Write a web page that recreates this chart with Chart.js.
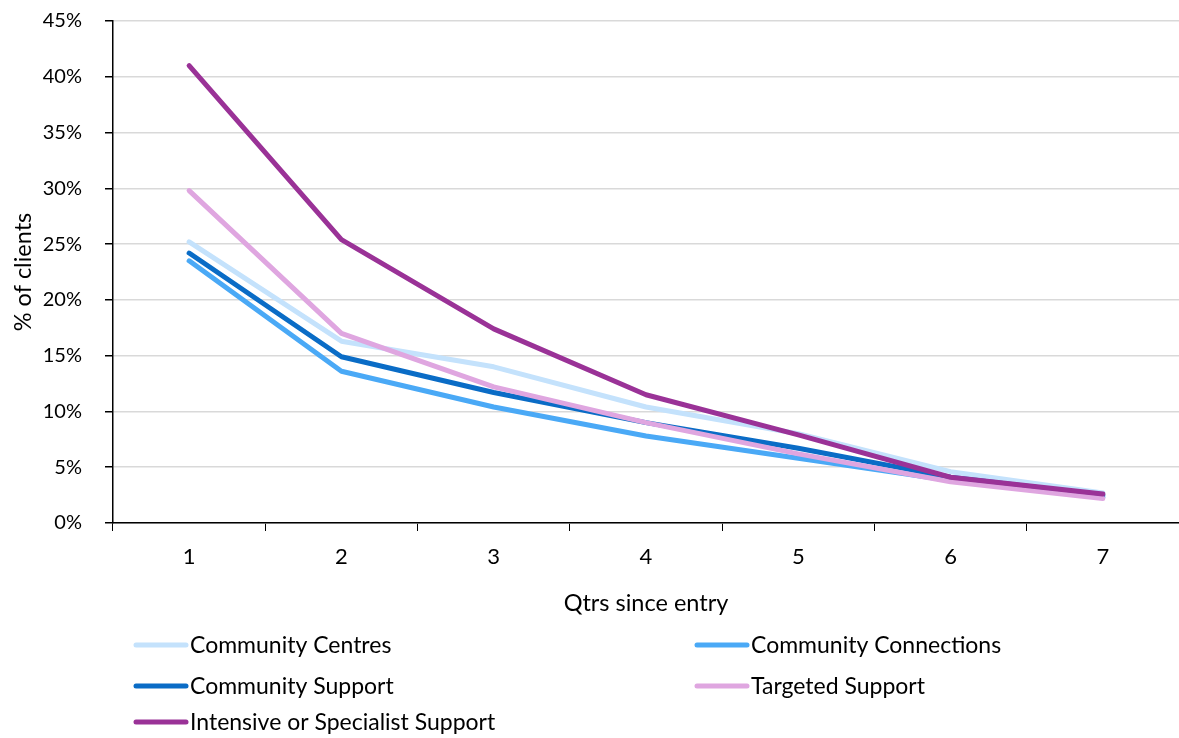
<!DOCTYPE html>
<html>
<head>
<meta charset="utf-8">
<script src="https://cdn.jsdelivr.net/npm/chart.js@4/dist/chart.umd.min.js"></script>
<style>
  html, body { margin: 0; padding: 0; background: #fff; }
  #wrap { width: 1179px; height: 738px; position: relative; }
</style>
</head>
<body>
<div id="wrap"><canvas id="chart" width="1179" height="738"></canvas></div>
<script>
// Share of clients by quarters since entry, per service type (%)
const quarters = ['1', '2', '3', '4', '5', '6', '7'];
const seriesNames = [
  'Community Centres',
  'Community Connections',
  'Community Support',
  'Targeted Support',
  'Intensive or Specialist Support'
];
const communityCentres     = [25.2, 16.3, 14.0, 10.4, 8.0, 4.6, 2.7];
const communityConnections = [23.5, 13.6, 10.4, 7.8, 5.8, 3.8, 2.3];
const communitySupport     = [24.2, 14.9, 11.7, 9.0, 6.7, 4.1, 2.5];
const targetedSupport      = [29.8, 17.0, 12.2, 9.0, 6.2, 3.7, 2.2];
const intensiveSupport     = [41.0, 25.4, 17.4, 11.5, 7.9, 4.1, 2.6];
const yTicks = [0, 5, 10, 15, 20, 25, 30, 35, 40, 45];

const seriesValues = [communityCentres, communityConnections, communitySupport, targetedSupport, intensiveSupport];
const seriesColors = ['#c4e2fc', '#4aa9f6', '#0a6cc6', '#dfa6e0', '#9a3297'];

const FONT = 'Lato, "Open Sans", sans-serif';

const datasets = seriesNames.map((name, i) => ({
  label: name,
  data: seriesValues[i],
  borderColor: seriesColors[i],
  backgroundColor: seriesColors[i],
  borderWidth: 5,
  borderCapStyle: 'round',
  borderJoinStyle: 'round',
  pointRadius: 0,
  pointHoverRadius: 0,
  tension: 0,
  fill: false,
  order: seriesNames.length - i
}));

// Two-column legend drawn beneath the axis title
const bottomLegend = {
  id: 'bottomLegend',
  afterDraw(chart) {
    const ctx = chart.ctx;
    const cols = [134, 695];
    const rows = [645, 686, 722];
    ctx.save();
    ctx.font = '23px ' + FONT;
    ctx.textBaseline = 'middle';
    ctx.textAlign = 'left';
    chart.data.datasets.forEach((ds, i) => {
      const x = cols[i % 2];
      const y = rows[Math.floor(i / 2)];
      ctx.strokeStyle = ds.borderColor;
      ctx.lineWidth = 5;
      ctx.lineCap = 'round';
      ctx.beginPath();
      ctx.moveTo(x + 2, y);
      ctx.lineTo(x + 52, y);
      ctx.stroke();
      ctx.fillStyle = '#000';
      ctx.fillText(ds.label, x + 56, y + 1);
    });
    ctx.restore();
  }
};

new Chart(document.getElementById('chart'), {
  type: 'line',
  data: { labels: quarters, datasets },
  options: {
    responsive: false,
    animation: false,
    events: [],
    layout: { padding: { top: 21, right: 0, bottom: 115, left: 0 } },
    plugins: {
      legend: { display: false },
      tooltip: { enabled: false }
    },
    scales: {
      x: {
        offset: true,
        grid: {
          offset: true,
          drawOnChartArea: false,
          drawTicks: true,
          tickLength: 8,
          tickColor: '#000',
          color: '#000'
        },
        border: { display: true, color: '#000', width: 1.5 },
        ticks: {
          color: '#000',
          font: { family: FONT, size: 22 },
          padding: 13,
          maxRotation: 0
        },
        title: {
          display: true,
          text: 'Qtrs since entry',
          color: '#000',
          font: { family: FONT, size: 23.5 },
          padding: { top: 0, bottom: 5 }
        },
        afterFit(scale) { scale.height = 100; }
      },
      y: {
        min: 0,
        max: 45,
        afterBuildTicks(scale) { scale.ticks = yTicks.map(v => ({ value: v })); },
        grid: {
          color: '#d9d9d9',
          lineWidth: 1.5,
          tickColor: '#000',
          tickLength: 8,
          drawTicks: true
        },
        border: { display: true, color: '#000', width: 1.5 },
        ticks: {
          color: '#000',
          font: { family: FONT, size: 20 },
          padding: 23,
          callback: v => v + '%'
        },
        title: {
          display: true,
          text: '% of clients',
          color: '#000',
          font: { family: FONT, size: 23.5 },
          padding: { top: 9, bottom: 0 }
        },
        afterFit(scale) {
          scale.width = 113;
          scale.paddingTop = 0;
          scale.paddingBottom = 0;
        }
      }
    }
  },
  plugins: [bottomLegend]
});
</script>
</body>
</html>
